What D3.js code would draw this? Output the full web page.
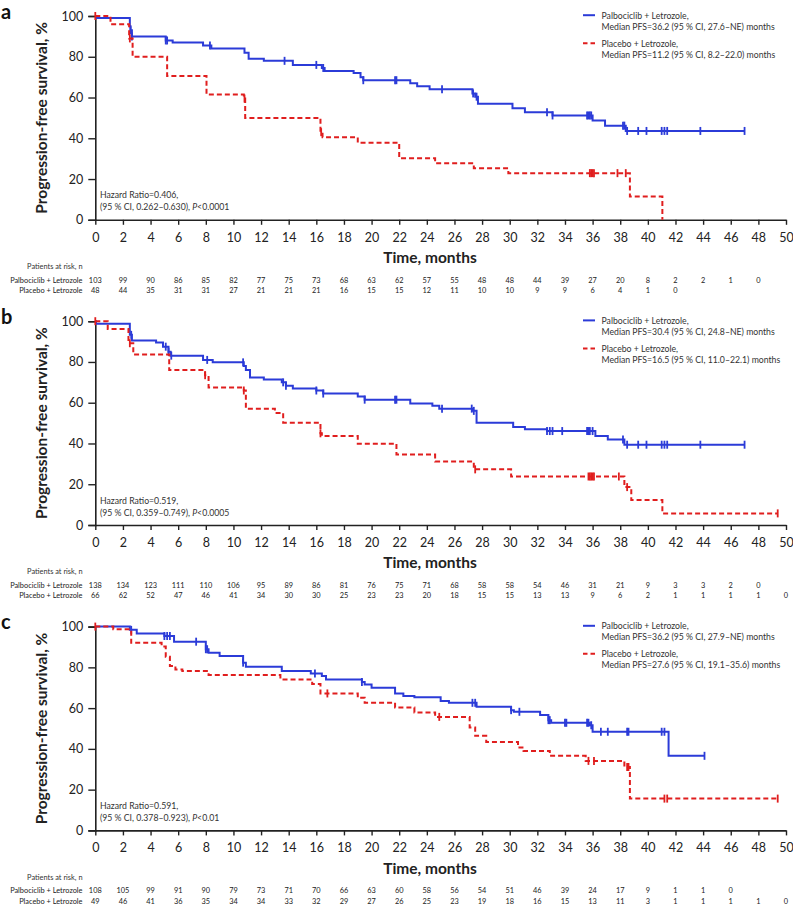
<!DOCTYPE html>
<html><head><meta charset="utf-8">
<script src="https://cdn.jsdelivr.net/npm/d3@7/dist/d3.min.js"></script>
<style>
body{margin:0;background:#fff}
svg{display:block}
text{font-family:Lato,"Noto Sans",sans-serif;fill:#222}
</style>
</head><body>
<svg id="chart" width="793" height="905"></svg>
<script>
// ---------- data ----------
const xTickValues = d3.range(0, 51, 2);
const yTickValues = [0, 20, 40, 60, 80, 100];
const panelLetters = ["a", "b", "c"];
const seriesNames = ["Palbociclib + Letrozole", "Placebo + Letrozole"];
const riskRowLabels = ["Palbociclib + Letrozole", "Placebo + Letrozole"];

// Panel a
const palboSteps_a = [[0,100],[0.1,99],[2.5,95],[2.55,93],[2.65,90],[5.1,88],[5.6,87],[7.8,85.5],[8.4,84],[10.8,82],[11.1,79],[12.2,78],[14.3,76],[16.4,74.5],[16.6,73],[18.7,72],[19.2,70],[19.4,68.5],[22.8,67],[23.3,65.5],[24.2,64],[27.3,62],[27.5,60.4],[27.7,57],[30.2,54.7],[31.1,52.8],[33.1,51.2],[36.0,48.7],[36.9,46.2],[38.4,43.6]];
const palboEnd_a = 47.0;
const palboCensor_a = [2.55,2.65,5.1,5.2,8.3,13.7,16.0,16.5,19.4,21.7,21.8,25.1,27.35,27.6,32.7,33.1,35.6,35.7,35.8,35.9,38.2,38.3,38.5,39.3,39.9,41.0,41.2,41.4,43.8,47.0];
const placeboSteps_a = [[0,100],[1.1,96],[2.45,89],[2.7,80],[5.2,70.6],[8.05,61.5],[10.75,59.5],[10.85,50],[16.3,43],[16.45,40.5],[19.0,37.8],[22.0,30.2],[24.6,27.8],[27.4,25.3],[29.9,22.9],[38.7,11.4],[41.05,0]];
const placeboEnd_a = 41.05;
const placeboCensor_a = [0,2.5,10.8,16.35,35.8,35.9,36.0,36.1,37.8,38.4];
const palboRisk_a = [103,99,90,86,85,82,77,75,73,68,63,62,57,55,48,48,44,39,27,20,8,2,2,1,0];
const placeboRisk_a = [48,44,35,31,31,27,21,21,21,16,15,15,12,11,10,10,9,9,6,4,1,0];
const legend_a = ["Median PFS=36.2 (95 % CI, 27.6–NE) months", "Median PFS=11.2 (95 % CI, 8.2–22.0) months"];
const hazard_a = ["Hazard Ratio=0.406,", "(95 % CI, 0.262–0.630), ", "<0.0001"];

// Panel b
const palboSteps_b = [[0,100],[0.05,98.7],[2.5,93.3],[2.65,90.5],[4.4,89.5],[4.9,87.5],[5.3,85],[5.45,83.1],[7.8,81],[8.5,79.8],[10.75,78],[10.9,76],[11.2,72.4],[12.2,71.4],[13.5,70],[13.8,68.3],[14.3,67],[16.0,66],[16.5,64.5],[19.0,63],[19.5,61.5],[22.8,59.6],[24.4,58.5],[24.9,57.1],[27.3,56],[27.6,50.2],[30.25,48.1],[31.1,47],[32.7,46.1],[36.2,43.7],[37.1,42],[38.3,39.4]];
const palboEnd_b = 47.0;
const palboCensor_b = [2.6,5.1,5.3,5.5,8.1,10.7,13.6,13.8,16.0,16.5,19.5,21.7,21.8,25.1,27.25,27.4,32.7,32.9,33.1,33.8,35.6,35.7,35.8,36.0,38.2,38.5,39.3,39.9,41.0,41.2,41.4,43.8,47.0];
const placeboSteps_b = [[0,100],[0.9,96.2],[2.4,89.2],[2.75,83.7],[5.35,76],[7.95,73.5],[8.2,67.5],[10.75,66],[10.9,57.1],[13.0,55],[13.6,50.2],[16.3,45],[16.4,43.7],[19.0,39.9],[21.8,34.6],[24.6,31.2],[27.4,27.3],[30.1,23.8],[38.3,18.6],[38.8,12.3],[41.05,5.7]];
const placeboEnd_b = 49.4;
const placeboCensor_b = [0,2.5,7.95,10.75,16.3,27.5,35.7,35.8,35.9,36.0,36.1,37.9,38.5,49.4];
const palboRisk_b = [138,134,123,111,110,106,95,89,86,81,76,75,71,68,58,58,54,46,31,21,9,3,3,2,0];
const placeboRisk_b = [66,62,52,47,46,41,34,30,30,25,23,23,20,18,15,15,13,13,9,6,2,1,1,1,1,0];
const legend_b = ["Median PFS=30.4 (95 % CI, 24.8–NE) months", "Median PFS=16.5 (95 % CI, 11.0–22.1) months"];
const hazard_b = ["Hazard Ratio=0.519,", "(95 % CI, 0.359–0.749), ", "<0.0005"];

// Panel c
const palboSteps_c = [[0,100],[2.5,98.4],[3.0,96.6],[5.0,95.4],[5.7,92.6],[8.0,88.9],[8.2,87.2],[9.0,85.6],[10.7,82.3],[10.9,80.3],[13.5,78.2],[15.6,77],[16.4,75.7],[16.7,74.1],[19.3,72.8],[19.5,71.6],[20.0,70],[21.7,67.2],[22.3,66],[23.1,65.3],[25.0,63.5],[25.6,62.6],[27.6,60.7],[30.1,59],[30.3,58.2],[32.2,56.6],[32.8,54.1],[33.0,52.8],[35.8,51.6],[36.0,48.4],[41.5,36.6]];
const palboEnd_c = 44.1;
const palboCensor_c = [2.6,5.0,5.2,5.4,7.3,8.0,8.1,10.7,15.9,19.3,27.3,27.5,30.1,30.7,32.8,32.9,34.0,34.1,35.6,35.7,35.9,36.6,37.1,38.5,38.6,41.0,41.2,44.1];
const placeboSteps_c = [[0,100],[1.3,98.7],[2.6,92.1],[4.8,90.2],[5.1,85.2],[5.4,80.7],[5.8,79],[6.3,78.2],[8.2,76.2],[13.4,74.1],[15.7,71.8],[16.3,67.2],[19.0,65.1],[19.5,62.6],[21.7,60.3],[23.1,57.9],[24.6,55.7],[27.1,50.5],[27.5,46.4],[28.3,43.4],[30.6,40.7],[31.0,39],[32.9,36.6],[35.5,34.1],[38.3,31.1],[38.7,15.6]];
const placeboEnd_c = 49.4;
const placeboCensor_c = [0,16.8,24.9,35.7,36.1,38.5,38.6,41.2,41.4,49.4];
const palboRisk_c = [108,105,99,91,90,79,73,71,70,66,63,60,58,56,54,51,46,39,24,17,9,1,1,0];
const placeboRisk_c = [49,46,41,36,35,34,34,33,32,29,27,26,25,23,19,18,16,15,13,11,3,1,1,1,1,0];
const legend_c = ["Median PFS=36.2 (95 % CI, 27.9–NE) months", "Median PFS=27.6 (95 % CI, 19.1–35.6) months"];
const hazard_c = ["Hazard Ratio=0.591,", "(95 % CI, 0.378–0.923), ", "<0.01"];

// ---------- build ----------
const panels = [
  {letter: panelLetters[0], series: [
    {steps: palboSteps_a, end: palboEnd_a, censor: palboCensor_a},
    {steps: placeboSteps_a, end: placeboEnd_a, censor: placeboCensor_a}],
   risk: [palboRisk_a, placeboRisk_a], legend: legend_a, hazard: hazard_a},
  {letter: panelLetters[1], series: [
    {steps: palboSteps_b, end: palboEnd_b, censor: palboCensor_b},
    {steps: placeboSteps_b, end: placeboEnd_b, censor: placeboCensor_b}],
   risk: [palboRisk_b, placeboRisk_b], legend: legend_b, hazard: hazard_b},
  {letter: panelLetters[2], series: [
    {steps: palboSteps_c, end: palboEnd_c, censor: palboCensor_c},
    {steps: placeboSteps_c, end: placeboEnd_c, censor: placeboCensor_c}],
   risk: [palboRisk_c, placeboRisk_c], legend: legend_c, hazard: hazard_c}
];

const colors = ["#2b3bd8", "#e01e1e"];
const dashes = [null, "5,3"];
const X0 = 95.3, X1 = 786;
const panelTops = [16, 321.2, 626.6];
const PH = 203.8;
const NARROW = 0.87;

const svg = d3.select("#chart");
const x = d3.scaleLinear().domain([0, 50]).range([X0, X1]);

function survAt(steps, t) {
  let s = steps[0][1];
  for (const p of steps) { if (p[0] <= t + 1e-9) s = p[1]; }
  return s;
}
function narrowText(parent, tx, ty, size, anchor) {
  return parent.append("g").attr("transform", `translate(${tx},${ty}) scale(${NARROW},1)`)
    .append("text").attr("dy", "0.35em").attr("text-anchor", anchor || "start")
    .style("font-size", size + "px").style("fill", "#333");
}

panels.forEach((p, i) => {
  const top = panelTops[i], bottom = top + PH;
  const y = d3.scaleLinear().domain([0, 100]).range([bottom, top]);
  const g = svg.append("g");

  // panel letter
  g.append("text").attr("x", 1).attr("y", top + 2.5).text(p.letter)
    .style("font-weight", "bold").style("font-size", "20px").style("fill", "#111");

  // y axis
  const ya = g.append("g").attr("transform", `translate(${X0},0)`)
    .call(d3.axisLeft(y).tickValues(yTickValues).tickSize(7).tickPadding(5));
  ya.select(".domain").attr("stroke", "#222").attr("stroke-width", 1.6);
  ya.selectAll(".tick line").attr("stroke", "#222").attr("stroke-width", 1.4);
  ya.selectAll("text").style("font-size", "12.5px").style("font-family", "Lato").attr("fill", "#222");

  // x axis
  const xa = g.append("g").attr("transform", `translate(0,${bottom})`)
    .call(d3.axisBottom(x).tickValues(xTickValues).tickSize(5).tickPadding(8).tickSizeOuter(0));
  xa.select(".domain").attr("stroke", "#222").attr("stroke-width", 1.6);
  xa.selectAll(".tick line").attr("stroke", "#222").attr("stroke-width", 1.4);
  xa.selectAll("text").style("font-size", "12.5px").style("font-family", "Lato").attr("fill", "#222");

  // y title
  g.append("text")
    .attr("transform", `translate(47,${(top + bottom) / 2}) rotate(-90)`)
    .attr("text-anchor", "middle")
    .style("font-weight", "bold").style("font-size", "15.5px")
    .text("Progression-free survival, %");

  // x title
  g.append("text").attr("x", 430).attr("y", bottom + 38).attr("dy", "0.35em")
    .attr("text-anchor", "middle")
    .style("font-weight", "bold").style("font-size", "15.5px")
    .text("Time, months");

  // curves
  const line = d3.line().x(d => x(d[0])).y(d => y(d[1])).curve(d3.curveStepAfter);
  p.series.forEach((s, k) => {
    const pts = s.steps.slice();
    const last = pts[pts.length - 1];
    if (s.end > last[0]) pts.push([s.end, last[1]]);
    g.append("path").attr("d", line(pts)).attr("fill", "none")
      .attr("stroke", colors[k]).attr("stroke-width", 2)
      .attr("stroke-dasharray", dashes[k]);
    g.selectAll(null).data(s.censor).enter().append("line")
      .attr("x1", d => x(d)).attr("x2", d => x(d))
      .attr("y1", d => y(survAt(s.steps, d)) - 4).attr("y2", d => y(survAt(s.steps, d)) + 4)
      .attr("stroke", colors[k]).attr("stroke-width", 1.8);
  });

  // legend
  const lx = 583, tx = 601.5;
  [0, 1].forEach(k => {
    const ly = top - 0.8 + k * 28;
    g.append("line").attr("x1", lx).attr("x2", k ? 597 : 595).attr("y1", ly).attr("y2", ly)
      .attr("stroke", colors[k]).attr("stroke-width", 2).attr("stroke-dasharray", k ? "4.5,3" : null);
    narrowText(g, tx, ly, 10).text(seriesNames[k] + ",");
    narrowText(g, tx, ly + 11, 10).text(p.legend[k]);
  });

  // hazard ratio text
  narrowText(g, 100, bottom - 25, 10).text(p.hazard[0]);
  const h2 = narrowText(g, 100, bottom - 13, 10);
  h2.append("tspan").text(p.hazard[1]);
  h2.append("tspan").style("font-style", "italic").text("P");
  h2.append("tspan").text(p.hazard[2]);

  // patients at risk
  narrowText(g, 82.5, bottom + 46.5, 8.5, "end").text("Patients at risk, n");
  p.risk.forEach((row, k) => {
    const ry = bottom + 60 + k * 10.4;
    narrowText(g, 82.5, ry, 8.5, "end").style("fill", "#222").text(riskRowLabels[k]);
    row.forEach((d, j) => {
      narrowText(g, x(xTickValues[j]), ry, 8.5, "middle").style("fill", "#222").text(d);
    });
  });
});
</script>
</body></html>
